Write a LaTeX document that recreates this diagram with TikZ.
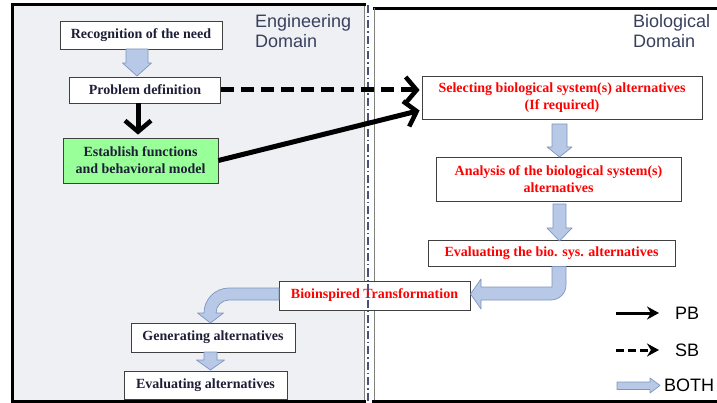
\documentclass[tikz,border=0pt]{standalone}
\usepackage{fontspec}
\setmainfont{Liberation Serif}
\newfontfamily\arialf{Liberation Sans}
\usetikzlibrary{arrows.meta,calc}
\definecolor{panelgray}{HTML}{EFF0F4}
\definecolor{titlecol}{RGB}{56,64,92}
\definecolor{boxtext}{HTML}{1E1E38}
\definecolor{boxline}{HTML}{404040}
\definecolor{bafill}{HTML}{B7C9E6}
\definecolor{baline}{HTML}{7D96C0}
\definecolor{greenbox}{HTML}{99FF99}
\definecolor{divcol}{HTML}{4A5078}
\tikzset{
  procbox/.style={draw=boxline, line width=0.8pt, fill=white, inner sep=0pt, align=center,
     text=boxtext, font=\bfseries\fontsize{14}{17}\selectfont},
  biobox/.style={procbox, text=red},
  blockarrow/.style={fill=bafill, draw=baline, line width=0.7pt, line join=round},
  thickarrow/.style={line width=5pt, -{Straight Barb[length=11pt,width=26pt,line width=4.5pt]}},
  legendarrow/.style={line width=3pt, -{Stealth[length=12pt,width=13pt]}},
  titletext/.style={font=\arialf\fontsize{18}{20.5}\selectfont, text=titlecol, align=left, inner sep=0pt},
  legtext/.style={font=\arialf\fontsize{18}{20}\selectfont, text=black, inner sep=0pt, anchor=west}
}
\newcommand\blockdown[6]{%
  \draw[blockarrow] (#1-#5,#2) -- (#1+#5,#2) -- (#1+#5,#3) -- (#1+#6,#3) -- (#1,#4) -- (#1-#6,#3) -- (#1-#5,#3) -- cycle;}
\begin{document}
\begin{tikzpicture}[x=1pt,y=-1pt]
\useasboundingbox (0,0) rectangle (717,403);
% panels
\fill[panelgray] (12,5) rectangle (364,401);
\draw[line width=3pt, line cap=rect] (364,5) -- (12,5) -- (12,401) -- (364,401);
\draw[gray, line width=0.8pt] (364,6) -- (364,400);
\draw[line width=3pt] (373,8.5) -- (717,8.5);
\draw[line width=3pt] (372,401) -- (717,401);
\draw[gray, line width=0.8pt] (374,8) -- (374,400);
% titles
\node[titletext, anchor=north west] (engt) at (255,14) {Engineering\\Domain};
\node[titletext, anchor=north west] (biot) at (633,14) {Biological\\Domain};
% engineering boxes
\node[procbox, minimum width=162pt, minimum height=28pt] (rec) at (141,35) {Recognition of the need};
\node[procbox, minimum width=151pt, minimum height=26pt] (prob) at (145,90) {Problem definition};
\node[procbox, fill=greenbox, minimum width=155pt, minimum height=45pt] (est) at (140.5,160.5) {Establish functions\\and behavioral model};
\node[procbox, minimum width=164pt, minimum height=29pt] (gen) at (213,337.5) {Generating alternatives};
\node[procbox, minimum width=163pt, minimum height=28pt] (eva) at (205.5,385) {Evaluating alternatives};
% biological boxes
\node[biobox, minimum width=280pt, minimum height=43pt] (sel) at (562,97.5) {Selecting biological system(s) alternatives\\(If required)};
\node[biobox, minimum width=245pt, minimum height=44pt] (ana) at (558.5,179) {Analysis of the biological system(s)\\alternatives};
\node[biobox, minimum width=247pt, minimum height=26pt] (evb) at (551.5,253) {Evaluating the bio. sys. alternatives};
\node[biobox, minimum width=191pt, minimum height=29pt] (bio) at (374.5,295.5) {Bioinspired Transformation};
% divider (drawn over the transformation box)
\draw[divcol, line width=1.3pt, dash pattern=on 8pt off 3pt on 1.5pt off 3pt] (368,5) -- (368,403);
% block arrows
\blockdown{137}{49}{63}{76}{11}{14.5}
\blockdown{559.5}{124}{147}{157}{7.5}{12.5}
\blockdown{559.5}{204}{228}{241}{6.5}{12.5}
\blockdown{210.5}{352}{360}{370}{6.5}{14}
% bent arrow from bio evaluation to transformation
\draw[blockarrow] (552,266.5) -- (566,266.5) -- (566,285) arc[start angle=0, end angle=90, radius=15]
  -- (481,300) -- (481,309) -- (470.5,294) -- (481,279) -- (481,287) -- (552,287) -- cycle;
% bent arrow from transformation to generating
\draw[blockarrow] (279,288) -- (229,288) arc[start angle=270, end angle=180, radius=25]
  -- (197.5,313) -- (210.5,323) -- (223.5,313) -- (216,313)
  arc[start angle=180, end angle=270, radius=13] -- (279,300) -- cycle;
% black arrows
\draw[thickarrow] (prob.south -| 138,0) -- ($(est.north -| 138,0)+(0,-3)$);
\draw[thickarrow, dash pattern=on 13pt off 7pt] (prob.east) -- ($(prob.east -| sel.west)+(-2,0)$);
\draw[thickarrow] (est.east) -- ($(sel.west)+(-2,13)$);
% legend
\coordinate (pba) at (616,313);
\coordinate (pbb) at (659,313);
\coordinate (sba) at (616,350);
\coordinate (sbb) at (659,350);
\draw[legendarrow] (pba) -- (pbb);
\draw[legendarrow, dash pattern=on 8pt off 4pt] (sba) -- (sbb);
\draw[blockarrow] (617,382) -- (650,382) -- (650,378) -- (660,385.5) -- (650,393) -- (650,389.5) -- (617,389.5) -- cycle;
\node[legtext] (pbl) at (675,313) {PB};
\node[legtext] (sbl) at (675,350) {SB};
\node[legtext] (bothl) at (664,385.5) {BOTH};
\end{tikzpicture}
\end{document}
